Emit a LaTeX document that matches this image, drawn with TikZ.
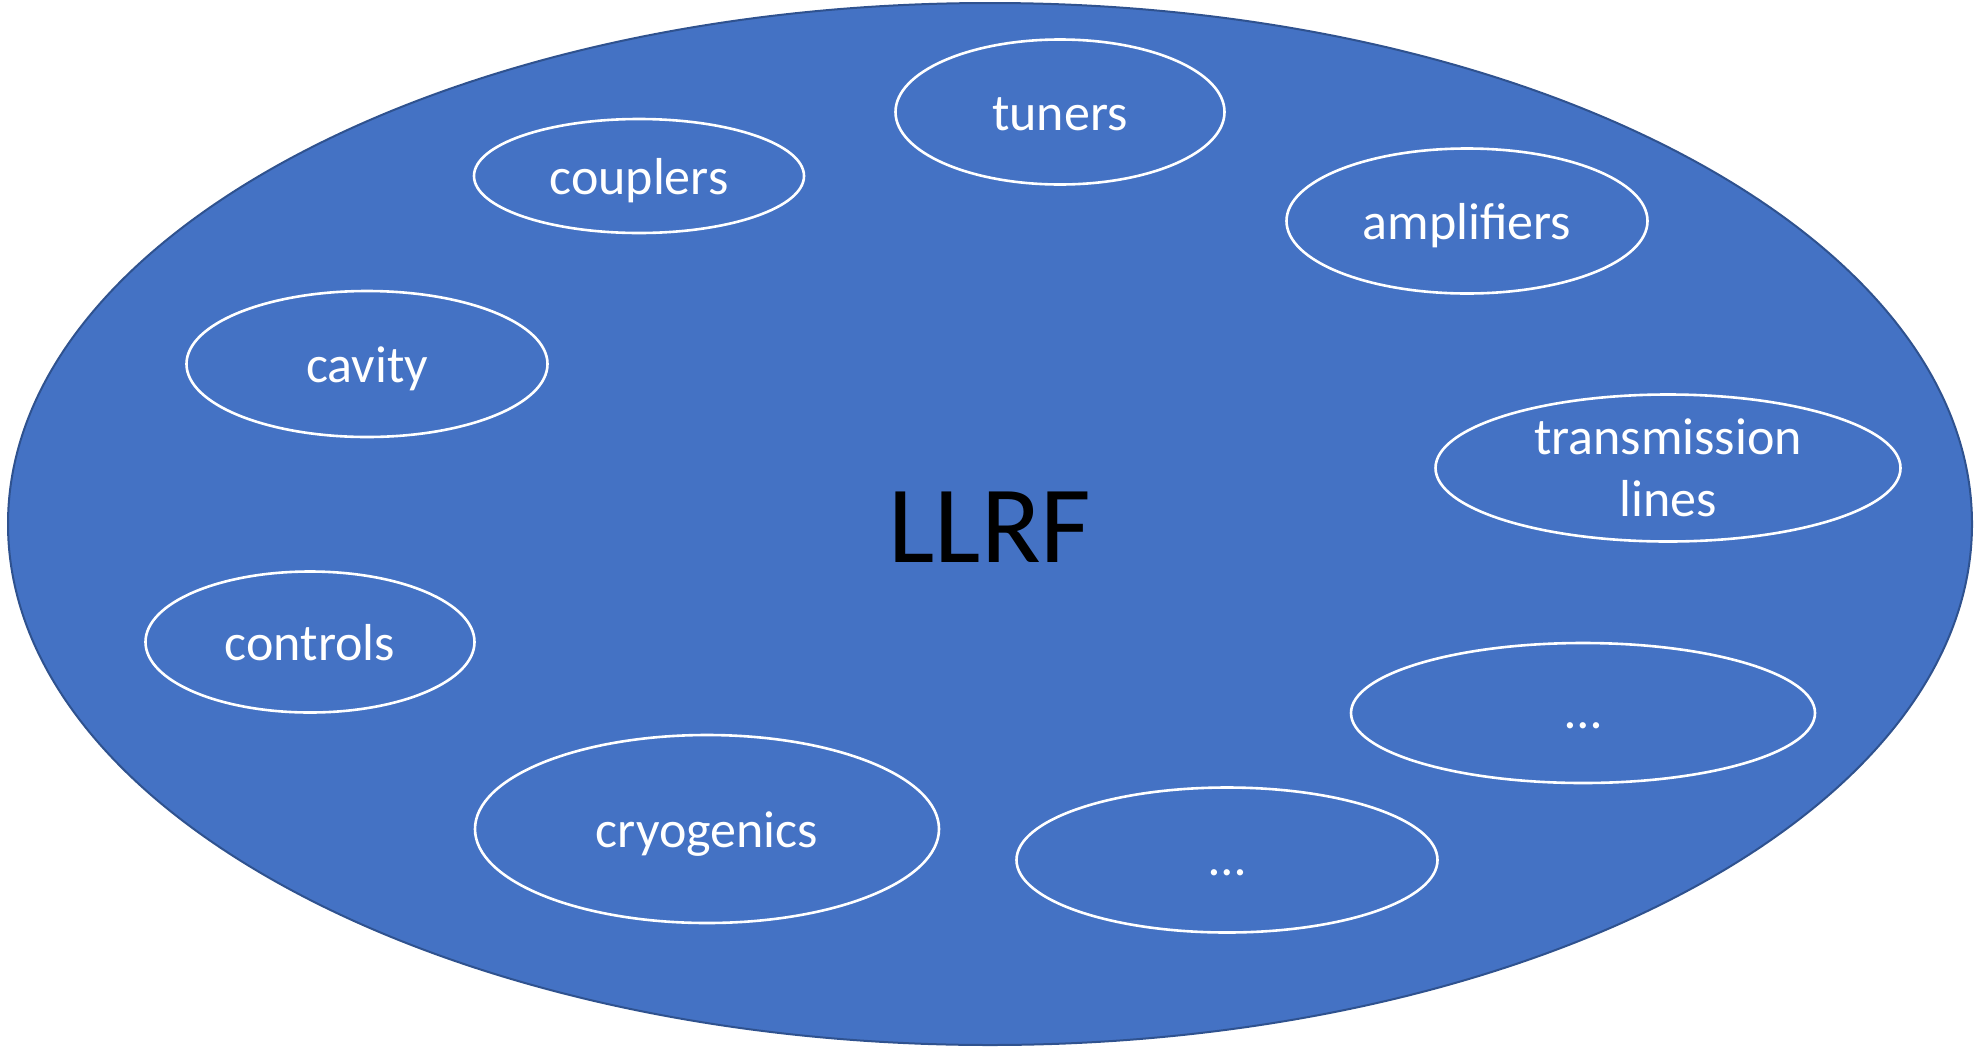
\documentclass[tikz,border=0pt]{standalone}
\usepackage{fontspec}
\setmainfont{Carlito}
\usetikzlibrary{shapes.geometric}
\definecolor{llrfblue}{HTML}{4472C4}
\definecolor{llrfedge}{HTML}{2F528F}
\tikzset{
  big/.style={ellipse, draw=llrfedge, line width=2pt, fill=llrfblue, inner sep=0pt},
  partbase/.style={ellipse, draw=white, line width=2.6pt, inner sep=0pt, text=white,
    font=\fontsize{52}{62}\selectfont},
  part/.style={partbase, text height=36pt, text depth=0pt},
  partdots/.style={partbase, text height=31pt, text depth=0pt},
  partml/.style={partbase, align=center},
}
\begin{document}
\begin{tikzpicture}[x=1pt,y=-1pt]
\path[use as bounding box] (0,0) rectangle (1975,1047);
\node[big, minimum width=1964pt, minimum height=1042pt] (llrf) at (990,524) {};
\node[font=\fontsize{110}{130}\selectfont, text=black] (title) at (990,527) {LLRF};
\node[part, minimum width=329pt, minimum height=145pt] (tuners) at (1060,112) {tuners};
\node[part, minimum width=330pt, minimum height=114pt] (couplers) at (639,176) {couplers};
\node[part, minimum width=361pt, minimum height=145pt] (amplifiers) at (1467,221) {amplifiers};
\node[part, minimum width=361pt, minimum height=146pt] (cavity) at (367,364) {cavity};
\node[partml, minimum width=465pt, minimum height=147pt] (trans) at (1668,468) {transmission\\lines};
\node[part, minimum width=329pt, minimum height=141pt] (controls) at (310,642) {controls};
\node[partdots, minimum width=464pt, minimum height=140pt] (more1) at (1583,713) {\ldots};
\node[part, minimum width=464pt, minimum height=188pt] (cryo) at (707,829) {cryogenics};
\node[partdots, minimum width=421pt, minimum height=145pt] (more2) at (1227,860) {\ldots};
\end{tikzpicture}
\end{document}
